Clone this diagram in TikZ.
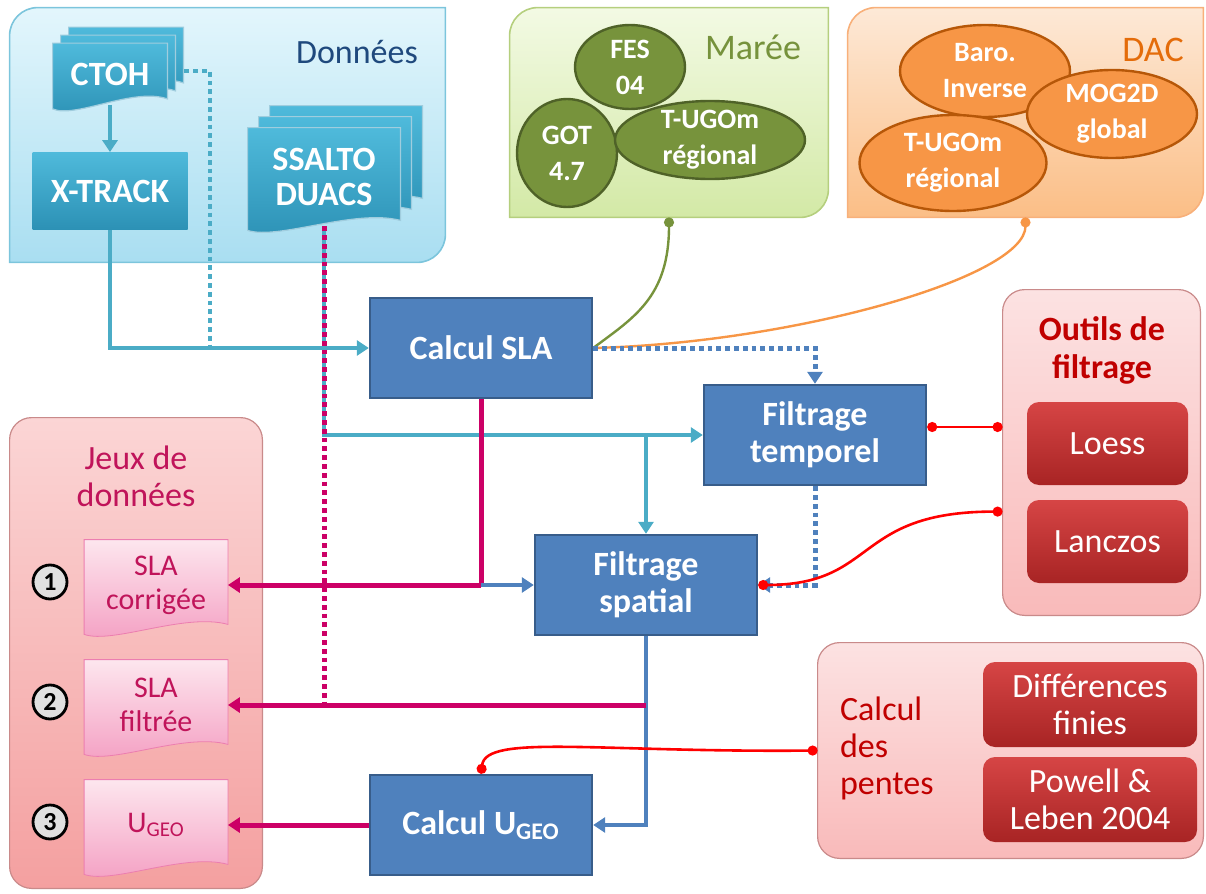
\documentclass[tikz,border=0pt]{standalone}
\usepackage{fontspec}
\setmainfont{Carlito}
\usetikzlibrary{arrows.meta,calc,shapes.geometric,backgrounds}

\definecolor{tealc}{HTML}{4BACC6}
\definecolor{tealtop}{HTML}{4FBADB}
\definecolor{tealbot}{HTML}{2C91B5}
\definecolor{bluec}{HTML}{4F81BD}
\definecolor{blueedge}{HTML}{385D8A}
\definecolor{magc}{HTML}{CC0066}
\definecolor{magtext}{HTML}{C0145A}
\definecolor{oliv}{HTML}{77933C}
\definecolor{olivedge}{HTML}{4F6228}
\definecolor{olivtext}{HTML}{76923C}
\definecolor{orng}{HTML}{F79646}
\definecolor{orngedge}{HTML}{B65708}
\definecolor{dactext}{HTML}{E46C0A}
\definecolor{navy}{HTML}{1F497D}
\definecolor{darkred}{HTML}{C00000}
\definecolor{dontop}{HTML}{E3F6FC}
\definecolor{donbot}{HTML}{A9DEF1}
\definecolor{donedge}{HTML}{7CC5DC}
\definecolor{martop}{HTML}{F3FAE4}
\definecolor{marbot}{HTML}{D3E9A6}
\definecolor{maredge}{HTML}{B5CF7E}
\definecolor{dactop}{HTML}{FDE9D7}
\definecolor{dacbot}{HTML}{FBBE86}
\definecolor{dacedge}{HTML}{F8B07A}
\definecolor{jeuxtop}{HTML}{FBD5D5}
\definecolor{jeuxbot}{HTML}{F4A0A0}
\definecolor{pnltop}{HTML}{FCE2E2}
\definecolor{pnlbot}{HTML}{F9BABA}
\definecolor{pnledge}{HTML}{C98A8A}
\definecolor{doctop}{HTML}{FDE6EE}
\definecolor{docbot}{HTML}{F49EC2}
\definecolor{tooltop}{HTML}{D64545}
\definecolor{toolbot}{HTML}{A82424}
\definecolor{numfill}{HTML}{E0E0E0}

\newcommand\docpath[2]{($(#1.north west)+(#2)$) -- ($(#1.north east)+(#2)$) -- ($(#1.south east)+(#2)+(0,-6)$) .. controls ($(#1.south)!0.4!(#1.south east)+(#2)+(0,-18)$) and ($(#1.south)!0.6!(#1.south west)+(#2)+(0,14)$) .. ($(#1.south west)+(#2)+(0,4)$) -- cycle}
\newcommand\diagpath[1]{(#1.south west) [rounded corners=14pt] -- (#1.north west) [sharp corners] -- (#1.north east) [rounded corners=14pt] -- (#1.south east) [sharp corners] -- cycle}

\begin{document}
\begin{tikzpicture}[x=0.5pt,y=-0.5pt,font=\fontsize{17}{18.5}\selectfont,
  >={Triangle[width=7.5pt,length=6pt]},
  panelbox/.style={inner sep=0pt},
  procbox/.style={draw=blueedge,line width=1.2pt,fill=bluec,text=white,font=\fontsize{17}{18.5}\selectfont\bfseries,minimum width=111pt,minimum height=50pt,align=center,inner sep=1pt},
  tealcard/.style={top color=tealtop,bottom color=tealbot,draw=white!55!tealbot,line width=0.6pt},
  cardtext/.style={text=white,font=\fontsize{17}{17.5}\selectfont\bfseries,align=center,inner sep=0pt},
  marell/.style={ellipse,draw=olivedge,line width=1.2pt,fill=oliv,text=white,font=\fontsize{14}{18}\selectfont\bfseries,align=center,inner xsep=0pt,inner ysep=-8pt},
  dacell/.style={ellipse,draw=orngedge,line width=1.2pt,fill=orng,text=white,font=\fontsize{14}{18}\selectfont\bfseries,align=center,inner xsep=0pt,inner ysep=-8pt},
  toolbox/.style={rounded corners=6pt,top color=tooltop,bottom color=toolbot,text=white,minimum width=80.5pt,minimum height=41.5pt,align=center,inner sep=0pt},
  doctext/.style={text=magtext,font=\fontsize{15}{17}\selectfont,align=center,minimum width=71.5pt,minimum height=45pt,inner sep=0pt},
  numcircle/.style={circle,draw=black,line width=1.4pt,fill=numfill,minimum size=17pt,inner sep=0pt,font=\fontsize{13}{13}\selectfont\bfseries},
  tlink/.style={draw=tealc,line width=2pt},
  blink/.style={draw=bluec,line width=2pt},
  mlink/.style={draw=magc,line width=2.5pt},
  dots/.style={line width=2.5pt,dash pattern=on 2.4pt off 2pt},
  glink/.style={draw=oliv,line width=1.2pt,{Circle[length=5pt]}-},
  olink/.style={draw=orng,line width=1.2pt,{Circle[length=5pt]}-},
  rlink/.style={draw=red,line width=1.3pt,{Circle[length=5pt]}-{Circle[length=5pt]}}]
  \useasboundingbox (0,0) rectangle (1206,894);

  \node[panelbox,minimum width=217.5pt,minimum height=127pt] (donnees) at (227.5,135) {};
  \node[panelbox,minimum width=159pt,minimum height=104.5pt] (maree) at (669,112.5) {};
  \node[panelbox,minimum width=177.5pt,minimum height=104.5pt] (dac) at (1025.5,112.5) {};
  \node[panelbox,minimum width=126pt,minimum height=235pt] (jeux) at (136,653) {};
  \node[panelbox,minimum width=98.5pt,minimum height=162.5pt] (outils) at (1101.5,452.5) {};
  \node[panelbox,minimum width=192.5pt,minimum height=107.5pt] (pentes) at (1010.5,750.5) {};
  \begin{scope}[on background layer]
    \path[draw=donedge,line width=0.8pt,top color=dontop,bottom color=donbot] \diagpath{donnees};
    \path[draw=maredge,line width=0.8pt,top color=martop,bottom color=marbot] \diagpath{maree};
    \path[draw=dacedge,line width=0.8pt,top color=dactop,bottom color=dacbot] \diagpath{dac};
    \path[draw=pnledge,line width=0.6pt,rounded corners=11pt,top color=jeuxtop,bottom color=jeuxbot] (jeux.south west) rectangle (jeux.north east);
    \path[draw=pnledge,line width=0.6pt,rounded corners=11pt,top color=pnltop,bottom color=pnlbot] (outils.south west) rectangle (outils.north east);
    \path[draw=pnledge,line width=0.6pt,rounded corners=11pt,top color=pnltop,bottom color=pnlbot] (pentes.south west) rectangle (pentes.north east);
  \end{scope}

  \node[text=navy] (tdonnees) at (357,52) {Données};
  \node[text=olivtext,font=\fontsize{18}{18}\selectfont] (tmaree) at (753,47) {Marée};
  \node[text=dactext,font=\fontsize{18}{18}\selectfont] (tdac) at (1153,50) {DAC};
  \node[text=magtext,align=center] (tjeux) at (136,476) {Jeux de\\données};
  \node[text=darkred,align=center,font=\fontsize{17}{19}\selectfont\bfseries] (toutils) at (1102,350) {Outils de\\filtrage};
  \node[text=darkred,align=left,anchor=west] (tpentes) at (833,748) {Calcul\\des\\pentes};

  \node[marell,minimum width=55pt,minimum height=42pt] (fes) at (630,67) {FES\\04};
  \node[marell,minimum width=50pt,minimum height=54pt] (got) at (567,153) {GOT\\4.7};
  \node[marell,minimum width=95pt,minimum height=39pt] (tugmar) at (710,140) {T-UGOm\\régional};
  \node[dacell,minimum width=85pt,minimum height=46pt] (baro) at (985,71) {Baro.\\Inverse};
  \node[dacell,minimum width=85pt,minimum height=44pt] (mog) at (1112,114) {MOG2D\\global};
  \node[dacell,minimum width=93.5pt,minimum height=48pt] (tugdac) at (953,163) {T-UGOm\\régional};

  \node[cardtext,minimum width=57pt,minimum height=30.5pt] (ctoh) at (110,74) {CTOH};
  \node[cardtext,minimum width=76pt,minimum height=49pt] (ssalto) at (324,177) {SSALTO\\DUACS};
  \begin{scope}[on background layer]
    \foreach \dx/\dy in {16/-16,8/-8,0/0} \path[tealcard] \docpath{ctoh}{\dx,\dy};
    \foreach \dx/\dy in {22/-22,11/-11,0/0} \path[tealcard] \docpath{ssalto}{\dx,\dy};
  \end{scope}
  \node[cardtext,top color=tealtop,bottom color=tealbot,minimum width=77.5pt,minimum height=38.5pt] (xtrack) at (110,191) {X-TRACK};

  \node[procbox] (sla) at (481,348) {Calcul SLA};
  \node[procbox] (temp) at (815,435) {Filtrage\\temporel};
  \node[procbox] (spat) at (646,585) {Filtrage\\spatial};
  \node[procbox] (ugeo) at (481,825) {Calcul U\textsubscript{GEO}};

  \node[toolbox] (loess) at (1107.5,443.5) {Loess};
  \node[toolbox] (lanczos) at (1107.5,541.5) {Lanczos};
  \node[toolbox,minimum width=107pt,minimum height=42.5pt] (diff) at (1090,704.5) {Différences\\finies};
  \node[toolbox,minimum width=107pt,minimum height=42.5pt] (powell) at (1090,799.5) {Powell \&\\Leben 2004};

  \foreach \n/\y/\lbl [count=\i] in {corr/585/{SLA\\corrigée},filt/705/{SLA\\filtrée},ug/825/{U\textsubscript{GEO}}}{
    \node[doctext] (\n) at (156,\y) {\lbl};
    \node[numcircle] (num\i) at (50,\y-3) {\i};
    \begin{scope}[on background layer]
      \path[top color=doctop,bottom color=docbot,draw=docbot!80!magc,line width=0.4pt] \docpath{\n}{0,0};
    \end{scope}
  }

  \coordinate (ctohjoin) at (210,348);
  \draw[tlink,->] (ctoh.south) -- (xtrack.north);
  \draw[tlink,->] (xtrack.south) |- (sla.west);
  \draw[tlink,dots,line width=2pt] ($(ctoh.east)+(17,-3)$) -| (ctohjoin);
  \draw[tlink,->] (ssalto.south) |- (temp.west);
  \draw[tlink,->] (spat.north |- temp.west) -- (spat.north);
  \draw[mlink,dots] (ssalto.south) -- (ssalto.south |- filt.east);
  \draw[mlink] (sla.south) -- (sla.south |- spat.west);
  \draw[mlink,->] (sla.south |- spat.west) -- (corr.east);
  \draw[blink,->] (sla.south |- spat.west) -- (spat.west);
  \draw[blink,->] (spat.south) |- (ugeo.east);
  \draw[mlink,->] (spat.south |- filt.east) -- (filt.east);
  \draw[mlink,->] (ugeo.west) -- (ug.east);
  \draw[glink] (maree.south) .. controls +(0,80) and +(40,-30) .. (sla.east);
  \draw[olink] (dac.south) .. controls +(0,60) and +(200,-5) .. (sla.east);
  \draw[blink,dots,->] (sla.east) -| (temp.north);
  \draw[blink,dots,->] (temp.south) |- (spat.east);
  \coordinate (templink) at ($(temp.east)+(0,-8)$);
  \draw[rlink] (templink) -- (templink -| outils.west);
  \coordinate (lanczoslink) at ($(outils.west |- lanczos.north)+(0,12)$);
  \draw[rlink] (lanczoslink) .. controls +(-150,0) and +(120,0) .. (spat.east);
  \draw[rlink] (pentes.west) .. controls +(-220,2) and +(5,-40) .. (ugeo.north);
\end{tikzpicture}
\end{document}
